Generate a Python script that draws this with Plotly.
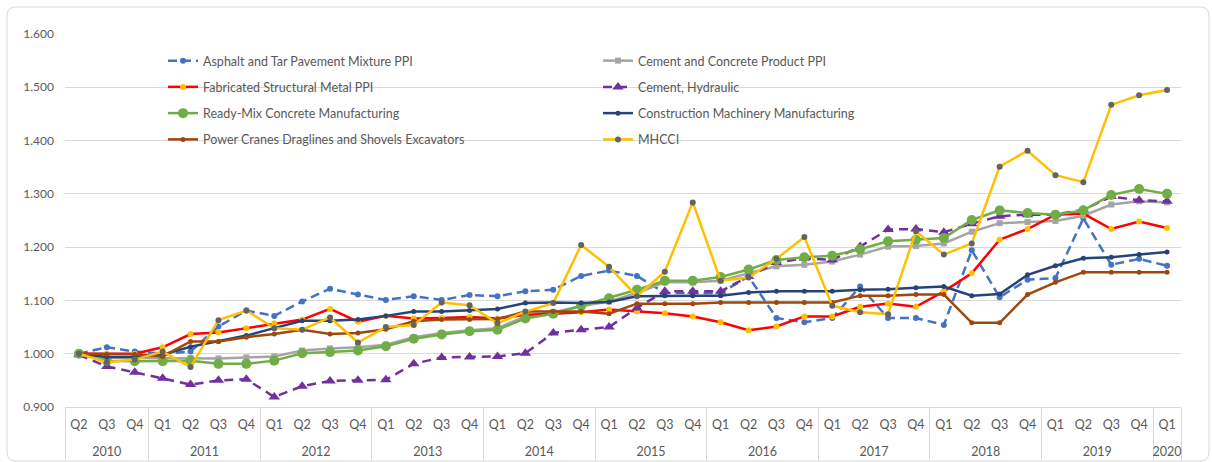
import plotly.graph_objects as go

ZW = "\u200b"  # keeps the three 2010 quarter labels distinct from later years

# Quarter / year labels for the two-level category axis (2010 Q2 .. 2020 Q1)
years = ["2010"] * 3 + [str(y) for y in range(2011, 2020) for _ in range(4)] + ["2020"]
quarter_labels = ["Q2" + ZW, "Q3" + ZW, "Q4" + ZW] + ["Q1", "Q2", "Q3", "Q4"] * 9 + ["Q1"]
# leading line break drops the year row below the quarter row
year_labels = ["<br>" + y for y in years]

asphalt = [1.000, 1.012, 1.004, 1.000, 1.004, 1.051, 1.081, 1.071, 1.098, 1.122,
           1.111, 1.101, 1.108, 1.101, 1.110, 1.108, 1.117, 1.120, 1.146, 1.156,
           1.146, 1.114, 1.114, 1.114, 1.145, 1.067, 1.059, 1.067, 1.126, 1.067,
           1.067, 1.054, 1.194, 1.106, 1.139, 1.142, 1.254, 1.167, 1.178, 1.165]
cement_concrete = [1.000, 0.993, 0.992, 0.992, 0.992, 0.991, 0.993, 0.995, 1.006, 1.010,
                   1.012, 1.017, 1.031, 1.039, 1.044, 1.048, 1.070, 1.078, 1.089, 1.098,
                   1.114, 1.134, 1.134, 1.137, 1.151, 1.164, 1.167, 1.173, 1.186, 1.201,
                   1.202, 1.207, 1.229, 1.245, 1.247, 1.249, 1.259, 1.280, 1.286, 1.284]
fab_metal = [1.000, 1.000, 1.000, 1.012, 1.037, 1.040, 1.048, 1.057, 1.064, 1.084,
             1.060, 1.071, 1.066, 1.067, 1.069, 1.066, 1.073, 1.075, 1.078, 1.083,
             1.079, 1.076, 1.070, 1.059, 1.044, 1.051, 1.070, 1.070, 1.088, 1.094,
             1.088, 1.117, 1.151, 1.214, 1.234, 1.261, 1.263, 1.234, 1.248, 1.236]
cement_hydraulic = [0.998, 0.976, 0.965, 0.954, 0.942, 0.950, 0.952, 0.919, 0.939, 0.949,
                    0.950, 0.951, 0.981, 0.993, 0.994, 0.995, 1.001, 1.039, 1.045, 1.050,
                    1.086, 1.117, 1.117, 1.117, 1.145, 1.171, 1.179, 1.176, 1.201, 1.233,
                    1.234, 1.228, 1.244, 1.258, 1.261, 1.261, 1.270, 1.295, 1.288, 1.286]
ready_mix = [1.000, 0.987, 0.986, 0.986, 0.987, 0.981, 0.981, 0.987, 1.001, 1.003,
             1.006, 1.014, 1.028, 1.036, 1.042, 1.045, 1.066, 1.075, 1.090, 1.104,
             1.120, 1.137, 1.137, 1.144, 1.158, 1.176, 1.181, 1.184, 1.196, 1.211,
             1.214, 1.217, 1.251, 1.269, 1.264, 1.261, 1.269, 1.298, 1.309, 1.300]
machinery = [1.000, 0.994, 0.994, 0.998, 1.013, 1.023, 1.034, 1.048, 1.062, 1.062,
             1.064, 1.071, 1.079, 1.079, 1.081, 1.084, 1.095, 1.096, 1.095, 1.097,
             1.108, 1.109, 1.109, 1.109, 1.115, 1.117, 1.117, 1.117, 1.120, 1.121,
             1.124, 1.126, 1.109, 1.112, 1.148, 1.165, 1.179, 1.181, 1.186, 1.191]
cranes = [1.000, 0.999, 0.999, 0.995, 1.023, 1.023, 1.031, 1.037, 1.045, 1.037,
          1.039, 1.046, 1.061, 1.064, 1.064, 1.065, 1.079, 1.079, 1.079, 1.075,
          1.094, 1.094, 1.094, 1.096, 1.096, 1.096, 1.096, 1.096, 1.109, 1.109,
          1.111, 1.111, 1.058, 1.058, 1.111, 1.134, 1.153, 1.153, 1.153, 1.153]
mhcci = [1.000, 0.984, 0.989, 1.004, 0.975, 1.063, 1.081, 1.048, 1.045, 1.068,
         1.021, 1.050, 1.054, 1.096, 1.091, 1.057, 1.079, 1.095, 1.204, 1.163,
         1.108, 1.154, 1.284, 1.137, 1.143, 1.178, 1.219, 1.090, 1.078, 1.074,
         1.230, 1.186, 1.207, 1.351, 1.381, 1.335, 1.322, 1.467, 1.485, 1.495]

x = [year_labels, quarter_labels]

# name, values, line colour, dash, marker symbol, marker size, marker colour, legend
series = [
    ("Asphalt and Tar Pavement Mixture PPI", asphalt, "#4472C4", "9px,5px", "circle", 6, "#4472C4", "legend"),
    ("Cement and Concrete Product PPI", cement_concrete, "#A5A5A5", "solid", "square", 6, "#A5A5A5", "legend2"),
    ("Fabricated Structural Metal PPI", fab_metal, "#FF0000", "solid", "circle", 6, "#FFC000", "legend"),
    ("Cement, Hydraulic", cement_hydraulic, "#7030A0", "9px,6px", "triangle-up", 10, "#7030A0", "legend2"),
    ("Ready-Mix Concrete Manufacturing", ready_mix, "#70AD47", "solid", "circle", 10, "#70AD47", "legend"),
    ("Construction Machinery Manufacturing", machinery, "#264478", "solid", "circle", 5, "#264478", "legend2"),
    ("Power Cranes Draglines and Shovels Excavators", cranes, "#9E480E", "solid", "circle", 5, "#9E480E", "legend"),
    ("MHCCI", mhcci, "#FFC000", "solid", "circle", 6, "#636363", "legend2"),
]

fig = go.Figure()
for i, (name, vals, lc, dash, sym, msize, mc, leg) in enumerate(series):
    fig.add_trace(go.Scatter(
        x=x, y=vals, name=name, mode="lines+markers",
        line=dict(color=lc, width=2.5, dash=dash),
        marker=dict(symbol=sym, size=msize, color=mc, line=dict(width=0)),
        legend=leg, legendgroup=f"g{i}",
    ))

W, H = 1212, 462
ml, mr, mt, mb = 65, 31, 34, 55
pw, ph = W - ml - mr, H - mt - mb


def px_x(v):
    return (v - ml) / pw


def px_y(v):
    return (H - mb - v) / ph


# rounded card outline
x0, x1, y0, y1 = px_x(7), px_x(1209), px_y(461), px_y(7)
rx, ry = 9 / pw, 9 / ph
card = (f"M{x0 + rx},{y1} L{x1 - rx},{y1} Q{x1},{y1} {x1},{y1 - ry} "
        f"L{x1},{y0 + ry} Q{x1},{y0} {x1 - rx},{y0} L{x0 + rx},{y0} "
        f"Q{x0},{y0} {x0},{y0 + ry} L{x0},{y1 - ry} Q{x0},{y1} {x0 + rx},{y1} Z")

font_family = "Lato, 'Open Sans', sans-serif"
text_color = "#595959"

legend_common = dict(
    orientation="v", yanchor="top", xanchor="left",
    bgcolor="rgba(0,0,0,0)", font=dict(family=font_family, size=12.5, color=text_color),
    tracegroupgap=7, itemclick=False, itemdoubleclick=False,
)

fig.update_layout(
    width=W, height=H,
    margin=dict(l=ml, r=mr, t=mt, b=mb, autoexpand=False),
    paper_bgcolor="white", plot_bgcolor="white",
    font=dict(family=font_family, size=12, color=text_color),
    showlegend=True,
    legend=dict(x=px_x(163), y=px_y(46), **legend_common),
    legend2=dict(x=px_x(598), y=px_y(46), **legend_common),
    shapes=[dict(type="path", path=card, xref="paper", yref="paper",
                 line=dict(color="#D9D9D9", width=1), fillcolor="rgba(0,0,0,0)",
                 layer="below")],
    xaxis=dict(
        type="multicategory", showgrid=False, automargin=False,
        range=[-0.5, len(years) - 0.5],
        showline=True, linecolor="#D9D9D9", linewidth=1,
        showdividers=True, dividercolor="#D9D9D9", dividerwidth=1,
        tickfont=dict(family=font_family, size=12.5, color=text_color),
        ticks="", zeroline=False, ticklabelstandoff=6,
    ),
    yaxis=dict(
        range=[0.9, 1.6], dtick=0.1, tick0=0.9, tickformat=".3f",
        showgrid=True, gridcolor="#D9D9D9", gridwidth=1, zeroline=False,
        showline=False, automargin=False, ticklabelstandoff=10,
        tickfont=dict(family=font_family, size=12, color=text_color),
    ),
)

fig.write_html("out.html")
